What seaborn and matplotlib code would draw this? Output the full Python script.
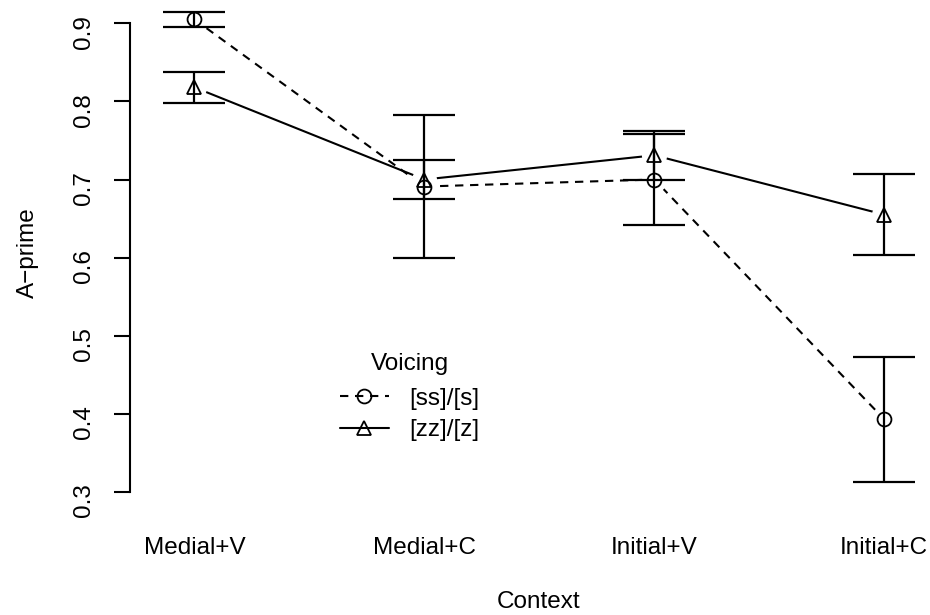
import numpy as np
import pandas as pd
import matplotlib
matplotlib.use("Agg")
import matplotlib.pyplot as plt
from matplotlib.lines import Line2D
import seaborn as sns

contexts = ["Medial+V", "Medial+C", "Initial+V", "Initial+C"]
voicing = ["[ss]/[s]", "[zz]/[z]"]
ss_mean = [0.905, 0.691, 0.700, 0.393]
ss_err = [0.010, 0.092, 0.058, 0.080]
zz_mean = [0.818, 0.700, 0.731, 0.655]
zz_err = [0.020, 0.025, 0.031, 0.052]
yticks = [0.3, 0.4, 0.5, 0.6, 0.7, 0.8, 0.9]

df = pd.DataFrame({
    "Context": contexts * 2,
    "Voicing": [voicing[0]] * 4 + [voicing[1]] * 4,
    "A": ss_mean + zz_mean,
})

sns.set_style("white")
plt.rcParams["font.family"] = ["Liberation Sans", "DejaVu Sans"]
plt.rcParams["text.color"] = "black"
plt.rcParams["axes.labelcolor"] = "black"
plt.rcParams["xtick.color"] = "black"
plt.rcParams["ytick.color"] = "black"
fs = 17.5

fig = plt.figure(figsize=(9.3, 6.15), dpi=100)
ax = fig.add_axes([130 / 930, 115 / 615, 818 / 930, 495 / 615])

# lines with white "holes" around points (R type="b" look)
sns.pointplot(data=df, x="Context", y="A", hue="Voicing", order=contexts,
              hue_order=voicing, palette=["black", "black"],
              markers=["o", "o"], linestyles=["--", "-"], errorbar=None,
              markerfacecolor="white", markeredgecolor="white", markersize=17,
              linewidth=1.5, ax=ax, legend=False, zorder=2)
for ln in ax.lines:
    if ln.get_linestyle() == "--":
        ln.set_dashes((4, 3.2))

pos = np.arange(len(contexts))
ax.errorbar(pos, ss_mean, yerr=ss_err, fmt="none", ecolor="black",
            elinewidth=1.6, capsize=22, capthick=1.6, zorder=3)
ax.errorbar(pos, zz_mean, yerr=zz_err, fmt="none", ecolor="black",
            elinewidth=1.6, capsize=22, capthick=1.6, zorder=3)

# hollow point symbols
ax.plot(pos, ss_mean, linestyle="none", marker="o", mfc="none", mec="black",
        mew=1.3, ms=10, zorder=4)
ax.plot(pos, zz_mean, linestyle="none", marker="^", mfc="none", mec="black",
        mew=1.3, ms=10, zorder=4)

ax.set_xlim(-0.28, 3.277)
ax.set_ylim(0.2897, 0.9234)
ax.set_yticks(yticks)
ax.set_yticklabels([f"{t:.1f}" for t in yticks])

for s in ["top", "right", "bottom"]:
    ax.spines[s].set_visible(False)
ax.spines["left"].set_bounds(0.3, 0.9)
ax.spines["left"].set_linewidth(1.5)
ax.spines["left"].set_color("black")

ax.tick_params(axis="y", direction="out", length=11.5, width=1.5, pad=14,
               labelsize=fs, labelrotation=90, left=True)
ax.tick_params(axis="x", length=0, pad=27, labelsize=fs)
ax.set_xlabel("Context", fontsize=fs, labelpad=23)
ax.set_ylabel("A\u2212prime", fontsize=fs, labelpad=24)

handles = [
    Line2D([], [], color="black", lw=1.5, dashes=(4, 3.2), marker="o",
           mfc="none", mec="black", mew=1.3, ms=10),
    Line2D([], [], color="black", lw=1.5, marker="^",
           mfc="none", mec="black", mew=1.3, ms=10),
]
leg = ax.legend(handles, voicing, title="Voicing", frameon=False, fontsize=fs,
                title_fontsize=fs, loc="upper left",
                bbox_to_anchor=(328 / 930, 1 - 341 / 615),
                bbox_transform=fig.transFigure, handlelength=2.0,
                labelspacing=0.4, handletextpad=0.85, borderpad=0)
leg._legend_box.sep = 9

fig.savefig("out.png", dpi=100)
